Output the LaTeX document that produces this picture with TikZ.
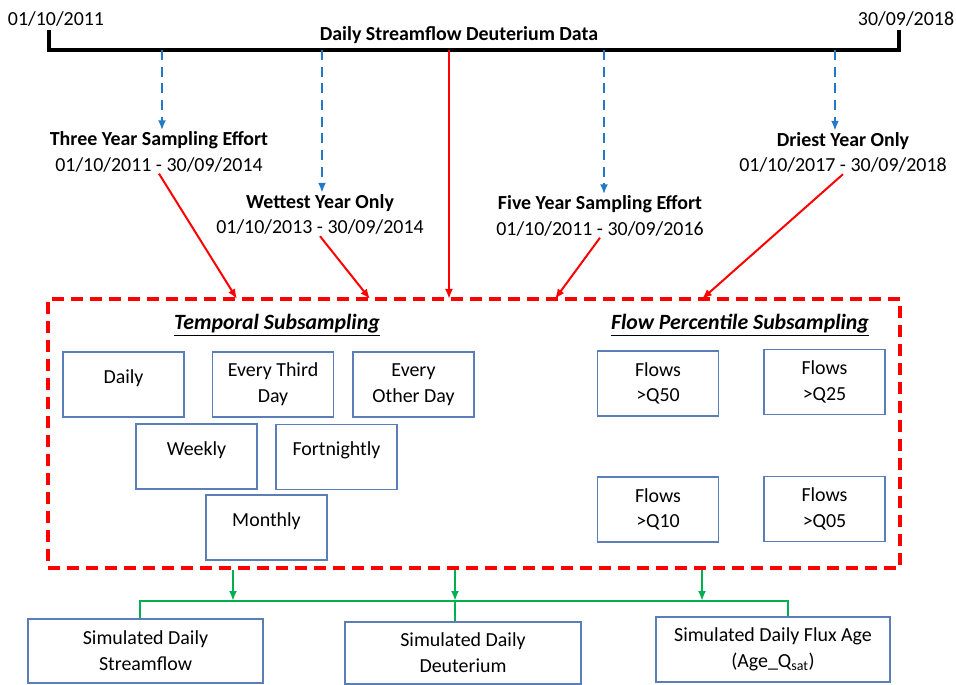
\documentclass[tikz,border=0pt]{standalone}
\usepackage{fontspec}
\setmainfont{Carlito}
\usetikzlibrary{arrows.meta}

\definecolor{boxblue}{HTML}{5B7DB8}
\definecolor{arrowblue}{HTML}{2378C8}
\definecolor{flowgreen}{HTML}{00B050}

\tikzset{
  subbox/.style={draw=boxblue, line width=1pt, minimum width=3.63cm, minimum height=1.95cm, align=center, inner sep=0pt},
  onerow/.style={text depth=0.5cm},
  outbox/.style={draw=boxblue, line width=1pt, align=center, inner sep=0pt},
  period/.style={align=center, inner sep=1pt},
  heading/.style={inner sep=1pt, font=\fontsize{18.6}{22}\selectfont},
  frame/.style={draw=red, line width=3pt, dash pattern=on 0.36cm off 0.21cm, inner sep=0pt},
  timeline/.style={black, line width=2.6pt},
  tip/.style={-{Latex[length=0.3cm, width=0.24cm]}},
  fetch/.style={arrowblue, line width=1.9pt, dash pattern=on 0.3cm off 0.2cm, tip},
  feed/.style={red, line width=1.7pt, tip},
  result/.style={flowgreen, line width=2.5pt},
}

\begin{document}
\begin{tikzpicture}[x=0.03cm, y=-0.03cm, font=\fontsize{17}{22}\selectfont]
  \useasboundingbox (0,0) rectangle (956,685);

  % timeline
  \node (start) at (56,19) {01/10/2011};
  \node (finish) at (906,19) {30/09/2018};
  \node (dataset) at (459,35) {\textbf{Daily Streamflow Deuterium Data}};
  \coordinate (tlL) at (49,50);
  \coordinate (tlR) at (899,50);
  \draw[timeline] (tlL |- start.south) -- (tlL) -- (tlR) -- (tlR |- finish.south);

  % sampling periods
  \node[period] (three) at (159,152) {\textbf{Three Year Sampling Effort}\\01/10/2011 - 30/09/2014};
  \node[period] (wet) at (320,214.5) {\textbf{Wettest Year Only}\\01/10/2013 - 30/09/2014};
  \node[period] (five) at (600,216) {\textbf{Five Year Sampling Effort}\\01/10/2011 - 30/09/2016};
  \node[period] (dry) at (843,152.5) {\textbf{Driest Year Only}\\01/10/2017 - 30/09/2018};

  \draw[fetch] ([xshift=0.09cm]three.north |- tlL) -- ([xshift=0.09cm]three.north);
  \draw[fetch] ([xshift=0.06cm]wet.north |- tlL) -- ([xshift=0.06cm]wet.north);
  \draw[fetch] ([xshift=0.12cm]five.north |- tlL) -- ([xshift=0.12cm]five.north);
  \draw[fetch] ([xshift=-0.24cm]dry.north |- tlL) -- ([xshift=-0.24cm]dry.north);

  % subsampling frame
  \node[frame, minimum width=25.56cm, minimum height=8.07cm] (sub) at (474,433.5) {};
  \coordinate (r1) at (237,299);
  \coordinate (r2) at (370,299);
  \coordinate (r3) at (449,299);
  \coordinate (r4) at (555,299);
  \coordinate (r5) at (702,299);
  \draw[feed] (three.south) -- (r1);
  \draw[feed] (wet.south) -- (r2);
  \draw[feed] (r3 |- tlL) -- (r3);
  \draw[feed] (five.south) -- (r4);
  \draw[feed] (dry.south) -- (r5);

  \node[heading] (temporal) at (277,325) {\underline{\textbf{\textit{Temporal Subsampling}}}};
  \node[heading] (flowpct) at (740,325) {\underline{\textbf{\textit{Flow Percentile Subsampling}}}};

  \node[subbox, onerow] (daily) at (123.5,384.5) {Daily};
  \node[subbox] (third) at (273,384.5) {Every Third\\Day};
  \node[subbox] (other) at (413.5,384.5) {Every\\Other Day};
  \node[subbox, onerow] (weekly) at (196.5,456.5) {Weekly};
  \node[subbox, onerow] (fortnight) at (336.5,457) {Fortnightly};
  \node[subbox, onerow] (monthly) at (266.5,527.5) {Monthly};

  \node[subbox] (q50) at (658,383.5) {Flows\\>Q50};
  \node[subbox] (q25) at (824.5,382) {Flows\\>Q25};
  \node[subbox] (q10) at (658,509.5) {Flows\\>Q10};
  \node[subbox] (q05) at (824.5,509) {Flows\\>Q05};

  % simulated outputs
  \node[outbox, minimum width=7.05cm, minimum height=1.92cm] (sim1) at (145.5,651) {Simulated Daily\\Streamflow};
  \node[outbox, minimum width=7.08cm, minimum height=1.86cm] (sim2) at (463,653) {Simulated Daily\\Deuterium};
  \node[outbox, minimum width=7.02cm, minimum height=1.95cm] (sim3) at (773,649.5) {Simulated Daily Flux Age\\(Age\_Q\textsubscript{sat})};

  \coordinate (busL) at (140,601);
  \coordinate (busR) at (788,601);
  \coordinate (g1) at (233,601);
  \coordinate (g2) at (455,601);
  \coordinate (g3) at (702,601);
  \draw[result] (busL |- sim1.north) -- (busL) -- (busR) -- (busR |- sim3.north);
  \draw[result] (g2) -- (g2 |- sim2.north);
  \draw[result, tip] (g1 |- sub.south) -- (g1);
  \draw[result, tip] (g2 |- sub.south) -- (g2);
  \draw[result, tip] (g3 |- sub.south) -- (g3);
\end{tikzpicture}
\end{document}
